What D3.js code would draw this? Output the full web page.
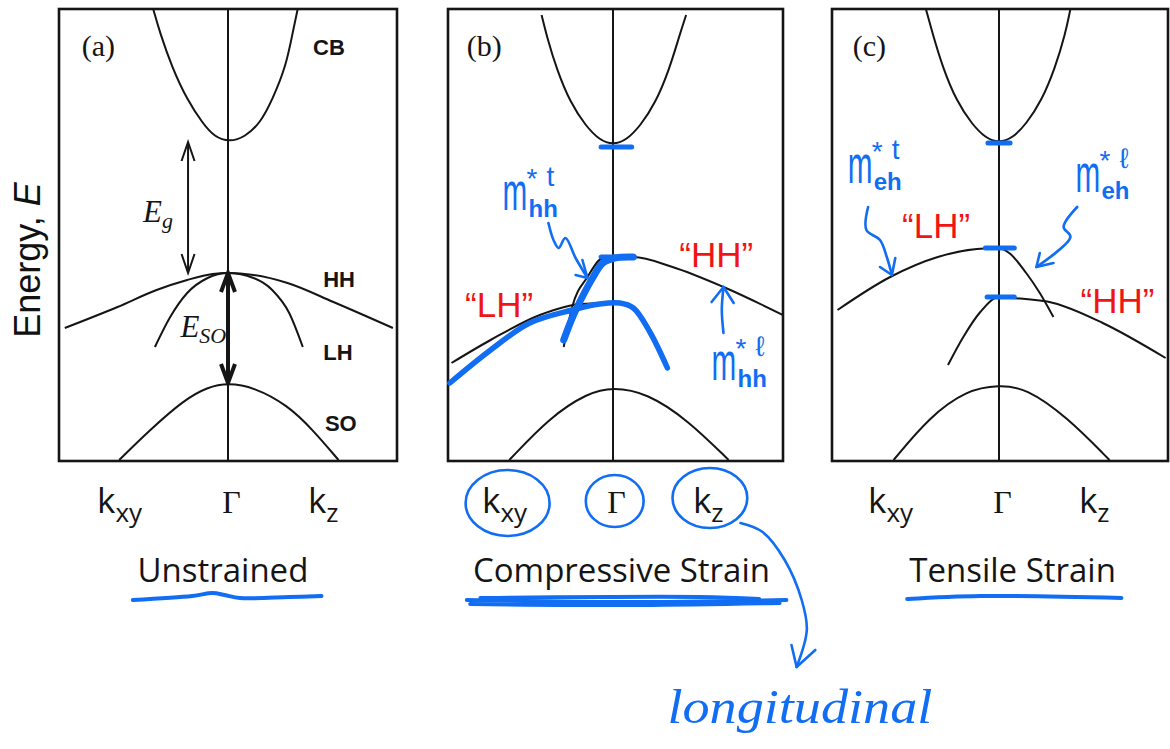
<!DOCTYPE html>
<html><head><meta charset="utf-8">
<script src="https://cdn.jsdelivr.net/npm/d3@7"></script>
<style>body{margin:0;background:#fff}</style>
</head><body><svg id="chart" width="1170" height="749"></svg>
<script>
// ================= DATA =================
const panelLetters = ["(a)", "(b)", "(c)"];
const captions = ["Unstrained", "Compressive Strain", "Tensile Strain"];
const kLabels = [{main: "k", sub: "xy"}, {main: "Γ", sub: ""}, {main: "k", sub: "z"}];
const kLabelK = [-0.77, 0.02, 0.47];
const bandLabelsA = [{t: "CB", k: 0.50, E: 2.18}, {t: "HH", k: 0.56, E: -0.14}, {t: "LH", k: 0.56, E: -0.87}, {t: "SO", k: 0.57, E: -1.58}];
const quotedLabels = [[], [{t: "“HH”", k: 0.39, E: 0.06}, {t: "“LH”", k: -0.87, E: -0.44}], [{t: "“LH”", k: -0.57, E: 0.35}, {t: "“HH”", k: 0.48, E: -0.40}]];

// band dispersions [k, E]
const cbA = [[-0.44,2.64],[-0.40,2.40],[-0.33,2.06],[-0.24,1.73],[-0.15,1.50],[-0.08,1.36],[0.01,1.31],[0.10,1.36],[0.19,1.50],[0.26,1.73],[0.34,2.06],[0.38,2.40],[0.41,2.64]];
const hhA = [[-0.96,-0.55],[-0.65,-0.34],[-0.42,-0.17],[-0.24,-0.07],[-0.09,-0.01],[0,0],[0.15,-0.02],[0.35,-0.10],[0.62,-0.29],[0.97,-0.55]];
const lhA = [[-0.43,-0.74],[-0.34,-0.44],[-0.24,-0.20],[-0.12,-0.05],[0,0],[0.15,-0.05],[0.26,-0.17],[0.36,-0.40],[0.44,-0.74]];
const soA = [[-0.64,-1.87],[-0.46,-1.57],[-0.26,-1.27],[-0.12,-1.14],[0,-1.10],[0.15,-1.14],[0.35,-1.32],[0.50,-1.57],[0.65,-1.87]];

const cbB = [[-0.42,2.58],[-0.39,2.37],[-0.33,2.03],[-0.25,1.70],[-0.16,1.47],[-0.08,1.33],[0,1.28],[0.08,1.33],[0.16,1.47],[0.25,1.70],[0.33,2.03],[0.39,2.37],[0.43,2.58]];
const hhB = [[-0.29,-0.74],[-0.24,-0.34],[-0.15,-0.04],[-0.06,0.15],[0,0.16],[0.12,0.16],[0.35,0.06],[0.65,-0.14],[1.00,-0.42]];
const lhB = [[-0.95,-0.90],[-0.72,-0.67],[-0.43,-0.42],[-0.19,-0.31],[0,-0.30],[0.12,-0.35],[0.22,-0.57],[0.32,-0.94]];
const soB = [[-0.61,-1.87],[-0.37,-1.44],[-0.15,-1.20],[0,-1.14],[0.20,-1.20],[0.44,-1.47],[0.68,-1.87]];

const cbC = [[-0.43,2.64],[-0.39,2.39],[-0.33,2.05],[-0.25,1.72],[-0.16,1.49],[-0.08,1.35],[0,1.30],[0.08,1.35],[0.16,1.49],[0.25,1.72],[0.33,2.05],[0.39,2.39],[0.42,2.64]];
const lhC = [[-0.95,-0.37],[-0.64,-0.04],[-0.36,0.16],[-0.13,0.24],[0,0.25],[0.06,0.20],[0.16,0.00],[0.24,-0.20],[0.32,-0.44]];
const hhC = [[-0.30,-0.92],[-0.21,-0.64],[-0.11,-0.39],[0,-0.24],[0.08,-0.25],[0.32,-0.30],[0.61,-0.50],[0.98,-0.85]];
const soC = [[-0.62,-1.87],[-0.41,-1.44],[-0.19,-1.17],[0,-1.12],[0.16,-1.15],[0.40,-1.44],[0.65,-1.87]];

const bands = [[cbA, hhA, lhA, soA], [cbB, hhB, lhB, soB], [cbC, lhC, hhC, soC]];

// energy gaps in panel (a)
const gapEg = {k: -0.235, E0: 1.31, E1: 0};
const gapEso = {k: 0, E0: 0, E1: -1.10};

// handwritten annotations (blue ink)
const inkTicks = [[], [{E: 1.26, k0: -0.07, k1: 0.11}, {E: 0.16, k0: -0.07, k1: 0.12}],
  [{E: 1.30, k0: -0.065, k1: 0.065}, {E: 0.25, k0: -0.08, k1: 0.09}, {E: -0.24, k0: -0.07, k1: 0.09}]];
const inkHHB = [[-0.29,-0.67],[-0.24,-0.45],[-0.19,-0.27],[-0.12,-0.05],[-0.06,0.10],[0.01,0.15],[0.12,0.16]];
const inkLHB = [[-0.96,-1.10],[-0.72,-0.77],[-0.49,-0.50],[-0.24,-0.37],[-0.08,-0.31],[0.04,-0.30],[0.12,-0.35],[0.22,-0.60],[0.32,-0.95]];
const massNotes = [
  {panel: 1, k: -0.65, E: 0.63, sup: "t", sub: "hh"},
  {panel: 1, k: 0.58, E: -1.07, sup: "ℓ", sub: "hh"},
  {panel: 2, k: -0.89, E: 0.90, sup: "t", sub: "eh"},
  {panel: 2, k: 0.45, E: 0.81, sup: "ℓ", sub: "eh"}
];
const inkArrows = [
  {panel: 1, shaft: [[-0.38,0.50],[-0.35,0.33],[-0.32,0.25],[-0.28,0.35],[-0.22,0.15],[-0.15,-0.05]], head: [[-0.22,-0.02],[-0.15,-0.05],[-0.18,0.13]]},
  {panel: 1, shaft: [[0.65,-0.60],[0.64,-0.37],[0.65,-0.14]], head: [[0.58,-0.29],[0.65,-0.14],[0.71,-0.30]]},
  {panel: 2, shaft: [[-0.77,0.66],[-0.78,0.43],[-0.70,0.33],[-0.66,0.16],[-0.63,-0.02]], head: [[-0.70,0.06],[-0.63,-0.02],[-0.61,0.15]]},
  {panel: 2, shaft: [[0.46,0.66],[0.38,0.46],[0.42,0.36],[0.22,0.06]], head: [[0.24,0.20],[0.22,0.06],[0.32,0.10]]},
  {panel: 1, shaft: [[0.75,-2.50],[0.88,-2.59],[1.01,-2.87],[1.11,-3.27],[1.14,-3.57],[1.08,-3.94]], head: [[1.05,-3.72],[1.08,-3.94],[1.19,-3.77]]}
];
const inkCircles = [{panel: 1, k: -0.62, E: -2.30, rk: 0.247, rE: 0.33}, {panel: 1, k: 0.01, E: -2.28, rk: 0.17, rE: 0.26}, {panel: 1, k: 0.57, E: -2.25, rk: 0.22, rE: 0.30}];
const inkUnderlines = [
  {panel: 0, pts: [[-0.56,-3.27],[-0.21,-3.23],[-0.09,-3.20],[-0.02,-3.22],[0.07,-3.25],[0.36,-3.24],[0.55,-3.23]]},
  {panel: 1, pts: [[-0.86,-3.27],[0.04,-3.29],[1.02,-3.27]]},
  {panel: 1, pts: [[-0.84,-3.31],[0.16,-3.32],[0.98,-3.30]]},
  {panel: 1, pts: [[-0.78,-3.25],[0.51,-3.24],[0.86,-3.26]]},
  {panel: 2, pts: [[-0.54,-3.26],[-0.11,-3.23],[0.72,-3.25]]}
];
const inkWord = {panel: 1, k: 0.32, E: -4.50, t: "longitudinal"};

// ================= LAYOUT =================
const svg = d3.select("#chart");
const layout = [{x0: 59, x1: 397, g: 228}, {x0: 448, x1: 783, g: 613}, {x0: 832, x1: 1168, g: 999}];
const yTop = 9, yBot = 461;
const y = d3.scaleLinear().domain([-1.88, 2.64]).range([yBot, yTop]);
const xs = layout.map(L => d3.scaleLinear().domain([-1, 1]).range([L.g - 170, L.g + 170]));
const BLUE = "#116df2", RED = "#f01515", INK = "#151515";
const SANS = "'Liberation Sans', Arial, sans-serif";
const SERIF = "'Liberation Serif', 'Times New Roman', serif";
const LABEL = "'Open Sans', 'Noto Sans', sans-serif";

const defs = svg.append("defs");
layout.forEach((L, i) => {
  defs.append("clipPath").attr("id", "clip" + i).append("rect")
    .attr("x", L.x0).attr("y", yTop).attr("width", L.x1 - L.x0).attr("height", yBot - yTop);
});

const lineFor = i => d3.line().x(d => xs[i](d[0])).y(d => y(d[1])).curve(d3.curveCatmullRom.alpha(0.5));
const bandLine = (i, smooth) => d3.line().x(d => xs[i](d[0])).y(d => y(d[1])).curve(smooth ? d3.curveBasis : d3.curveMonotoneX);

layout.forEach((L, i) => {
  const g = svg.append("g");
  const cg = g.append("g").attr("clip-path", `url(#clip${i})`);
  bands[i].forEach((b, j) => cg.append("path").attr("d", bandLine(i, j === 0 || j === 3)(b)).attr("fill", "none").attr("stroke", INK).attr("stroke-width", 2));
  g.append("line").attr("x1", xs[i](0)).attr("x2", xs[i](0)).attr("y1", yTop).attr("y2", yBot).attr("stroke", INK).attr("stroke-width", 2);
  g.append("rect").attr("x", L.x0).attr("y", yTop).attr("width", L.x1 - L.x0).attr("height", yBot - yTop)
    .attr("fill", "none").attr("stroke", INK).attr("stroke-width", 2.6);
  g.append("text").attr("x", xs[i](-0.86)).attr("y", y(2.17)).text(panelLetters[i])
    .attr("font-family", SERIF).attr("font-size", 30).attr("fill", INK);
  kLabels.forEach((kl, j) => {
    const t = g.append("text").attr("x", xs[i](kLabelK[j])).attr("y", y(-2.40))
      .attr("text-anchor", j === 1 ? "middle" : "start").attr("fill", INK);
    if (kl.sub) {
      t.attr("font-family", LABEL).attr("font-size", 35);
      t.append("tspan").text(kl.main);
      t.append("tspan").text(kl.sub).attr("font-size", 26).attr("dy", 9);
    } else {
      t.attr("font-family", SERIF).attr("font-size", 32).text(kl.main);
    }
  });
  g.append("text").attr("x", xs[i]([-0.03, 0.05, 0.08][i])).attr("y", y(-3.09)).attr("text-anchor", "middle")
    .attr("font-family", LABEL).attr("font-size", 33).attr("fill", INK).text(captions[i]);
  quotedLabels[i].forEach(q => g.append("text").attr("x", xs[i](q.k)).attr("y", y(q.E)).text(q.t)
    .attr("font-family", SANS).attr("font-size", 35).attr("fill", RED));
});

bandLabelsA.forEach(b => svg.append("text").attr("x", xs[0](b.k)).attr("y", y(b.E)).text(b.t)
  .attr("font-family", SANS).attr("font-weight", "bold").attr("font-size", 22).attr("fill", INK));

function vArrow(i, a, w, hw, hl) {
  const x = xs[i](a.k), y0 = y(a.E0), y1 = y(a.E1);
  svg.append("line").attr("x1", x).attr("x2", x).attr("y1", y0 + 2).attr("y2", y1 - 2).attr("stroke", INK).attr("stroke-width", w);
  [[y0, 1], [y1, -1]].forEach(([yy, s]) => svg.append("path")
    .attr("d", `M${x - hw},${yy + s * hl}L${x},${yy}L${x + hw},${yy + s * hl}`)
    .attr("fill", "none").attr("stroke", INK).attr("stroke-width", w).attr("stroke-linejoin", "miter"));
}
vArrow(0, gapEg, 2, 6.5, 19);
vArrow(0, gapEso, 4, 7, 19);
const eg = svg.append("text").attr("x", xs[0](-0.50)).attr("y", y(0.51)).attr("font-family", SERIF).attr("font-style", "italic").attr("font-size", 31).attr("fill", INK);
eg.append("tspan").text("E"); eg.append("tspan").text("g").attr("font-size", 22).attr("dy", 6);
const es = svg.append("text").attr("x", xs[0](-0.28)).attr("y", y(-0.64)).attr("font-family", SERIF).attr("font-style", "italic").attr("font-size", 31).attr("fill", INK);
es.append("tspan").text("E"); es.append("tspan").text("SO").attr("font-size", 22).attr("dy", 6);

const et = svg.append("text").attr("transform", "translate(40,260) rotate(-90)").attr("text-anchor", "middle")
  .attr("font-family", SANS).attr("font-size", 36).attr("fill", "#111");
et.append("tspan").text("Energy, "); et.append("tspan").text("E").attr("font-style", "italic");

// ================= INK =================
const ink = svg.append("g").attr("fill", "none").attr("stroke", BLUE).attr("stroke-linecap", "round").attr("stroke-linejoin", "round");
ink.append("path").attr("d", lineFor(1)(inkLHB)).attr("stroke-width", 5.5);
ink.append("path").attr("d", lineFor(1)(inkHHB)).attr("stroke-width", 7);
inkTicks.forEach((ts, i) => ts.forEach(t => ink.append("line").attr("x1", xs[i](t.k0)).attr("x2", xs[i](t.k1))
  .attr("y1", y(t.E)).attr("y2", y(t.E)).attr("stroke-width", 5)));
inkArrows.forEach(a => {
  const l = d3.line().x(d => xs[a.panel](d[0])).y(d => y(d[1]));
  ink.append("path").attr("d", lineFor(a.panel)(a.shaft)).attr("stroke-width", 2.6);
  ink.append("path").attr("d", l(a.head)).attr("stroke-width", 2.6);
});
inkCircles.forEach(c => ink.append("ellipse").attr("cx", xs[c.panel](c.k)).attr("cy", y(c.E))
  .attr("rx", xs[c.panel](c.k + c.rk) - xs[c.panel](c.k)).attr("ry", y(c.E - c.rE) - y(c.E)).attr("stroke-width", 2.6));
inkUnderlines.forEach(u => ink.append("path").attr("d", lineFor(u.panel)(u.pts)).attr("stroke-width", 4));

massNotes.forEach(n => {
  const g = svg.append("g").attr("transform", `translate(${xs[n.panel](n.k)},${y(n.E)})`).attr("fill", BLUE).attr("font-family", SANS);
  g.append("text").attr("transform", "scale(0.55,1)").attr("font-size", 54).text("m");
  g.append("text").attr("x", 24).attr("y", -22).attr("font-size", 28).text("*");
  g.append("text").attr("x", 44).attr("y", -24).attr("font-size", 28).text(n.sup);
  g.append("text").attr("x", 26).attr("y", 7).attr("font-size", 24).attr("font-weight", "bold").text(n.sub);
});
svg.append("text").attr("x", xs[inkWord.panel](inkWord.k)).attr("y", y(inkWord.E)).text(inkWord.t)
  .attr("font-family", SERIF).attr("font-style", "italic").attr("font-size", 48).attr("fill", BLUE)
  .attr("textLength", 265).attr("lengthAdjust", "spacingAndGlyphs");
</script></body></html>
